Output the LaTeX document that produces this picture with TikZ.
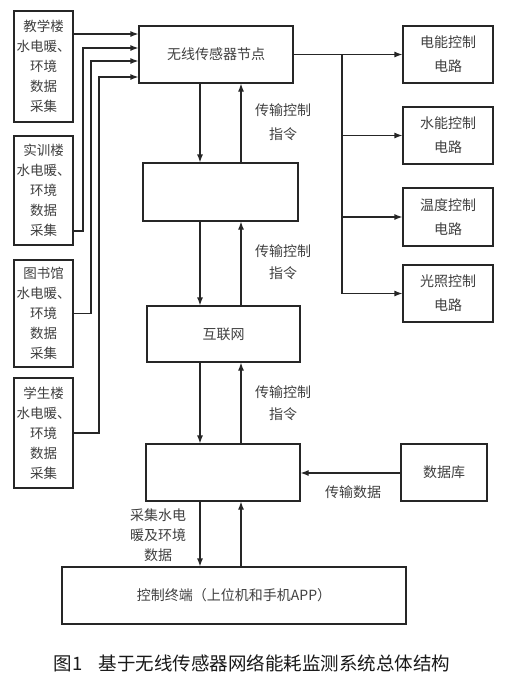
\documentclass[tikz,border=0pt]{standalone}
\usepackage{fontspec}
\setmainfont{Noto Sans CJK SC}
\usetikzlibrary{arrows.meta}
\begin{document}
\begin{tikzpicture}[x=1pt,y=-1pt,
  box/.style={draw=black!85,line width=1.2pt,inner sep=0pt,align=center,text=black!75},
  lbl/.style={inner sep=0pt,align=center,text=black!75},
  arr/.style={draw=black!85,line width=1.2pt,-{Latex[length=8pt,width=6pt]}},
  ln/.style={draw=black!85,line width=1.2pt},
  lft/.style={box,minimum width=59pt,font=\fontsize{13.5}{20}\selectfont},
  rgt/.style={box,minimum width=90pt,font=\fontsize{14}{24}\selectfont},
  mid/.style={box,font=\fontsize{14}{18}\selectfont}]
\useasboundingbox (0,0) rectangle (514,683);
\fill[white] (0,0) rectangle (514,683);
% left boxes
\node[lft,minimum height=111pt] (b1) at (43.5,66.5) {教学楼\\水电暖、\\环境\\数据\\采集};
\node[lft,minimum height=109pt] (b2) at (43.5,190.5) {实训楼\\水电暖、\\环境\\数据\\采集};
\node[lft,minimum height=107pt] (b3) at (43.5,313.5) {图书馆\\水电暖、\\环境\\数据\\采集};
\node[lft,minimum height=110pt] (b4) at (43.5,433) {学生楼\\水电暖、\\环境\\数据\\采集};
% middle column
\node[mid,minimum width=154pt,minimum height=57pt] (sn) at (216,54.5) {无线传感器节点};
\node[mid,minimum width=155pt,minimum height=58pt] (m2) at (220.5,192) {};
\node[mid,minimum width=153pt,minimum height=56pt] (net) at (223.5,334) {互联网};
\node[mid,minimum width=154pt,minimum height=57pt] (m4) at (223,472.5) {};
\node[mid,minimum width=344pt,minimum height=57pt] (term) at (234,595.5) {控制终端（上位机和手机APP）};
\node[mid,minimum width=86pt,minimum height=57pt] (db) at (444,472.5) {数据库};
% right boxes
\node[rgt,minimum height=57pt] (r1) at (448,54.5) {电能控制\\电路};
\node[rgt,minimum height=57pt] (r2) at (448,135.5) {水能控制\\电路};
\node[rgt,minimum height=58pt] (r3) at (448,217) {温度控制\\电路};
\node[rgt,minimum height=57pt] (r4) at (448,293.5) {光照控制\\电路};
% helper coordinates
\coordinate (xd) at (200,0);
\coordinate (xu) at (241,0);
\coordinate (l1) at (0,34);
\coordinate (p2) at (83,231);
\coordinate (v2) at (83,48);
\coordinate (v3) at (91,61);
\coordinate (v4) at (99,77);
\coordinate (br) at (342,54.5);
\coordinate (ydb) at (0,473);
% left connectors
\draw[arr] (b1.east |- l1) -- (sn.west |- l1);
\draw[arr] (b2.east |- p2) -- (p2) -- (v2) -- (sn.west |- v2);
\draw[arr] (b3.east) -| (v3) -- (sn.west |- v3);
\draw[arr] (b4.east) -| (v4) -- (sn.west |- v4);
% right connectors
\draw[arr] (sn.east) -- (r1.west);
\draw[ln] (br) -- (br |- r4.west);
\draw[arr] (br |- r2.west) -- (r2.west);
\draw[arr] (br |- r3.west) -- (r3.west);
\draw[arr] (br |- r4.west) -- (r4.west);
% vertical connectors
\draw[arr] (sn.south -| xd) -- (m2.north -| xd);
\draw[arr] (m2.north -| xu) -- (sn.south -| xu);
\draw[arr] (m2.south -| xd) -- (net.north -| xd);
\draw[arr] (net.north -| xu) -- (m2.south -| xu);
\draw[arr] (net.south -| xd) -- (m4.north -| xd);
\draw[arr] (m4.north -| xu) -- (net.south -| xu);
\draw[arr] (m4.south -| xd) -- (term.north -| xd);
\draw[arr] (term.north -| xu) -- (m4.south -| xu);
\draw[arr] (db.west |- ydb) -- (m4.east |- ydb);
% labels
\node[lbl,font=\fontsize{14}{24}\selectfont] (t1) at (283,122) {传输控制\\指令};
\node[lbl,font=\fontsize{14}{22}\selectfont] (t2) at (283,262) {传输控制\\指令};
\node[lbl,font=\fontsize{14}{22}\selectfont] (t3) at (283,403) {传输控制\\指令};
\node[lbl,font=\fontsize{14}{20}\selectfont] (t4) at (158,535) {采集水电\\暖及环境\\数据};
\node[lbl,font=\fontsize{14}{18}\selectfont] (t5) at (353,492) {传输数据};
\node[lbl,font=\fontsize{18.5}{20}\selectfont,text=black!90] (cap) at (252,663) {图1\hspace{0.9em}基于无线传感器网络能耗监测系统总体结构};
\end{tikzpicture}
\end{document}
